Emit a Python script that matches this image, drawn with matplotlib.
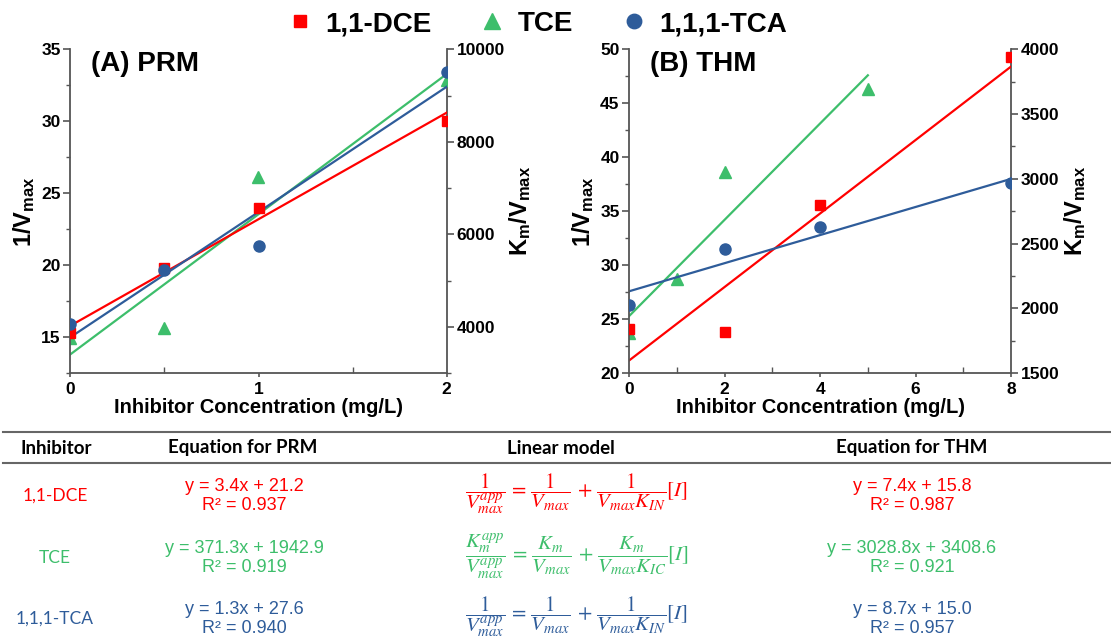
import matplotlib
matplotlib.use("Agg")
import matplotlib.pyplot as plt
import numpy as np
from matplotlib.lines import Line2D
from matplotlib.ticker import MultipleLocator

plt.rcParams['font.family'] = ['Liberation Sans', 'DejaVu Sans']
plt.rcParams['mathtext.fontset'] = 'custom'
plt.rcParams['mathtext.rm'] = 'Liberation Sans:bold'
plt.rcParams['mathtext.it'] = 'Liberation Sans:bold'
plt.rcParams['mathtext.bf'] = 'Liberation Sans:bold'

RED = '#FF0000'
GREEN = '#3DBE6B'
BLUE = '#2E5C9A'
SPINE = '#555555'

# panel A (PRM)
x_a = [0, 0.5, 1, 2]
dce_a = [15.3, 19.8, 24.0, 30.0]
tca_a = [15.9, 19.7, 21.35, 33.45]
tce_a = [3760, 3980, 7250, 9340]
# fitted lines A: slope, intercept
fit_dce_a = (7.4, 15.8)
fit_tce_a = (3028.8, 3408.6)
fit_tca_a = (8.7, 15.0)

# panel B (THM)
x_b = [0, 2, 4, 8]
dce_b = [24.1, 23.8, 35.6, 49.3]
tca_b = [26.3, 31.5, 33.55, 37.6]
x_b_tce = [0, 1, 2, 5]
tce_b = [1810, 2230, 3050, 3690]
fit_dce_b = (3.4, 21.2)
fit_tce_b = (371.3, 1942.9)
fit_tca_b = (1.3, 27.6)

# table
inhibitors = ['1,1-DCE', 'TCE', '1,1,1-TCA']
eq_prm = ['y = 3.4x + 21.2\nR² = 0.937', 'y = 371.3x + 1942.9\nR² = 0.919', 'y = 1.3x + 27.6\nR² = 0.940']
eq_thm = ['y = 7.4x + 15.8\nR² = 0.987', 'y = 3028.8x + 3408.6\nR² = 0.921', 'y = 8.7x + 15.0\nR² = 0.957']
models = [r'$\dfrac{1}{V_{max}^{app}}\,=\,\dfrac{1}{V_{max}}\,+\,\dfrac{1}{V_{max}K_{IN}}[I]$',
          r'$\dfrac{K_{m}^{app}}{V_{max}^{app}}\,=\,\dfrac{K_m}{V_{max}}\,+\,\dfrac{K_m}{V_{max}K_{IC}}[I]$',
          r'$\dfrac{1}{V_{max}^{app}}\,=\,\dfrac{1}{V_{max}}\,+\,\dfrac{1}{V_{max}K_{IN}}[I]$']
row_colors = [RED, GREEN, BLUE]

W, H = 1111, 644
fig = plt.figure(figsize=(W / 100, H / 100), dpi=100)


def fx(px):
    return px / W


def fy(py):
    return 1 - py / H


def style(ax):
    ax.spines['top'].set_visible(False)
    for s in ['left', 'right', 'bottom']:
        ax.spines[s].set_color(SPINE)
        ax.spines[s].set_linewidth(1.3)
    ax.tick_params(axis='y', which='major', direction='out', length=5, width=1.2, color=SPINE,
                   labelsize=12.5, pad=2)
    ax.tick_params(axis='y', which='minor', direction='out', length=3, width=1.0, color=SPINE)
    ax.tick_params(axis='x', which='major', direction='out', length=3, width=1.2, color=SPINE,
                   labelsize=12.5, pad=3)
    ax.tick_params(axis='x', which='minor', direction='in', length=4, width=1.0, color=SPINE)
    for lab in ax.get_yticklabels() + ax.get_xticklabels():
        lab.set_fontweight('bold')


def fitline(ax, xs, fit, color):
    xx = np.array([min(xs), max(xs)])
    ax.plot(xx, fit[0] * xx + fit[1], color=color, lw=1.6, zorder=2)


def panel(rect, xs, dce, tca, xs_tce, tce, fits, ylim, ylim2, xmax, xmaj, ymaj, ymaj2, title):
    ax = fig.add_axes(rect)
    ax2 = ax.twinx()
    ax.set_zorder(ax2.get_zorder() + 1)
    ax.patch.set_visible(False)
    fitline(ax, xs, fits[0], RED)
    fitline(ax, xs, fits[2], BLUE)
    fitline(ax2, xs_tce, fits[1], GREEN)
    h1, = ax.plot(xs, dce, 's', color=RED, ms=7, zorder=3, label='1,1-DCE')
    h3, = ax.plot(xs, tca, 'o', color=BLUE, ms=8, zorder=3, label='1,1,1-TCA')
    h2, = ax2.plot(xs_tce, tce, '^', color=GREEN, ms=9, zorder=3, label='TCE')
    ax.set_xlim(0, xmax)
    ax.set_ylim(*ylim)
    ax2.set_ylim(*ylim2)
    ax.xaxis.set_major_locator(MultipleLocator(xmaj))
    ax.xaxis.set_minor_locator(MultipleLocator(xmaj / 2))
    ax.yaxis.set_major_locator(MultipleLocator(ymaj))
    ax.yaxis.set_minor_locator(MultipleLocator(ymaj / 2))
    ax2.yaxis.set_major_locator(MultipleLocator(ymaj2))
    ax2.yaxis.set_minor_locator(MultipleLocator(ymaj2 / 2))
    style(ax)
    style(ax2)
    ax2.spines['left'].set_visible(False)
    ax2.spines['bottom'].set_visible(False)
    ax.spines['right'].set_visible(False)
    ax.set_xlabel('Inhibitor Concentration (mg/L)', fontsize=14.5, fontweight='bold', labelpad=1)
    ax.set_ylabel(r'1/V$_{\rm max}$', fontsize=17, fontweight='bold', labelpad=3)
    ax2.set_ylabel(r'K$_{\rm m}$/V$_{\rm max}$', fontsize=17, fontweight='bold', labelpad=2)
    ax.text(0.055, 0.995, title, transform=ax.transAxes, fontsize=20, fontweight='bold',
            va='top', ha='left')
    return h1, h2, h3


handles = panel([fx(70.3), 1 - 373.3 / H, fx(376.4), 324 / H], x_a, dce_a, tca_a, x_a, tce_a,
                (fit_dce_a, fit_tce_a, fit_tca_a), (12.5, 35), (3000, 10000), 2, 1, 5, 2000, '(A) PRM')
panel([fx(629.3), 1 - 373.3 / H, fx(381.7), 324 / H], x_b, dce_b, tca_b, x_b_tce, tce_b,
      (fit_dce_b, fit_tce_b, fit_tca_b), (20, 50), (1500, 4000), 8, 2, 5, 500, '(B) THM')

leg = fig.legend(handles=list(handles), loc='center', bbox_to_anchor=(fx(535), fy(24)), ncol=3,
                 frameon=False, prop={'size': 20, 'weight': 'bold'}, markerscale=1.3,
                 handletextpad=0.3, columnspacing=1.6, handlelength=1.2)

# table
for yy in [432, 463]:
    fig.add_artist(Line2D([fx(3), fx(1110)], [fy(yy), fy(yy)], color='#666666', lw=1.5,
                          transform=fig.transFigure))
hdr = dict(fontsize=13.5, fontweight='bold', family=['Lato', 'DejaVu Sans'], ha='center', va='center')
fig.text(fx(56), fy(448), 'Inhibitor', **hdr)
fig.text(fx(243), fy(448), 'Equation for PRM', **hdr)
fig.text(fx(561), fy(448), 'Linear model', **hdr)
fig.text(fx(912), fy(448), 'Equation for THM', **hdr)

row_y = [496, 558, 619]
for i in range(3):
    c = row_colors[i]
    fig.text(fx(55), fy(row_y[i]), inhibitors[i], color=c, fontsize=12.5,
             family=['Lato', 'DejaVu Sans'], ha='center', va='center')
    fig.text(fx(244), fy(row_y[i]), eq_prm[i], color=c, fontsize=13, ha='center', va='center',
             linespacing=1.2)
    fig.text(fx(912), fy(row_y[i]), eq_thm[i], color=c, fontsize=13, ha='center', va='center',
             linespacing=1.2)
    fig.text(fx(577), fy(row_y[i] - 2), models[i], color=c, fontsize=15, ha='center', va='center',
             math_fontfamily='stix')

fig.savefig('out.png', dpi=100)
